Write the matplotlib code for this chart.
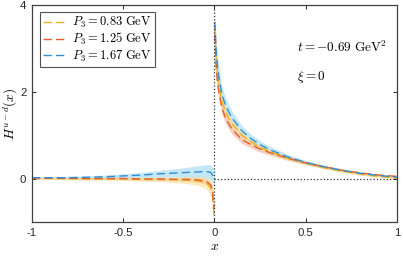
import matplotlib
matplotlib.use('Agg')
import matplotlib.pyplot as plt
import numpy as np

plt.rcParams['font.family'] = ['Liberation Sans', 'DejaVu Sans']
plt.rcParams['mathtext.fontset'] = 'cm'

# x grids
x_pos = [0.002, 0.01, 0.02, 0.04, 0.06, 0.08, 0.1, 0.15, 0.2, 0.25, 0.3, 0.4, 0.5, 0.6, 0.7, 0.8, 0.9, 1.0]
x_neg = [-1.0, -0.9, -0.8, -0.7, -0.6, -0.5, -0.4, -0.3, -0.2, -0.15, -0.1, -0.06, -0.04, -0.02, -0.01, -0.002]

# P3 = 0.83 GeV
y083_pos = [3.5, 2.7, 2.3, 1.8, 1.55, 1.38, 1.25, 1.0, 0.85, 0.72, 0.62, 0.47, 0.35, 0.25, 0.17, 0.1, 0.05, 0.01]
e083_pos = [0.3, 0.2, 0.15, 0.12, 0.1, 0.09, 0.08, 0.07, 0.06, 0.05, 0.05, 0.04, 0.03, 0.03, 0.03, 0.03, 0.03, 0.03]
y083_neg = [0.0, 0.0, -0.01, -0.01, -0.01, -0.01, -0.02, -0.02, -0.03, -0.04, -0.05, -0.08, -0.12, -0.22, -0.4, -0.9]
e083_neg = [0.02, 0.02, 0.02, 0.03, 0.03, 0.03, 0.04, 0.05, 0.07, 0.08, 0.1, 0.12, 0.14, 0.18, 0.22, 0.3]

# P3 = 1.25 GeV
y125_pos = [3.3, 2.5, 2.1, 1.65, 1.4, 1.25, 1.12, 0.9, 0.78, 0.68, 0.6, 0.47, 0.36, 0.27, 0.19, 0.13, 0.08, 0.05]
e125_pos = [0.3, 0.22, 0.18, 0.15, 0.13, 0.12, 0.11, 0.09, 0.08, 0.07, 0.06, 0.05, 0.04, 0.03, 0.03, 0.02, 0.02, 0.02]
y125_neg = [0.01, 0.01, 0.01, 0.0, 0.0, 0.0, -0.01, -0.01, -0.02, -0.02, -0.03, -0.05, -0.08, -0.15, -0.3, -0.7]
e125_neg = [0.02, 0.02, 0.02, 0.02, 0.03, 0.03, 0.03, 0.04, 0.04, 0.05, 0.05, 0.06, 0.07, 0.09, 0.12, 0.2]

# P3 = 1.67 GeV
y167_pos = [3.6, 2.9, 2.45, 1.95, 1.7, 1.52, 1.38, 1.1, 0.92, 0.78, 0.67, 0.5, 0.37, 0.27, 0.19, 0.12, 0.07, 0.03]
e167_pos = [0.35, 0.3, 0.25, 0.2, 0.18, 0.16, 0.15, 0.12, 0.1, 0.09, 0.08, 0.06, 0.05, 0.04, 0.03, 0.03, 0.02, 0.02]
y167_neg = [0.02, 0.02, 0.02, 0.03, 0.04, 0.06, 0.08, 0.11, 0.13, 0.14, 0.15, 0.16, 0.16, 0.14, 0.08, 0.0]
e167_neg = [0.02, 0.02, 0.03, 0.03, 0.04, 0.05, 0.06, 0.08, 0.1, 0.12, 0.14, 0.15, 0.16, 0.17, 0.18, 0.2]

labels = [r'$P_3 = 0.83\ \mathrm{GeV}$', r'$P_3 = 1.25\ \mathrm{GeV}$', r'$P_3 = 1.67\ \mathrm{GeV}$']
line_colors = ['#EDB120', '#E0602E', '#2F8FD2']
band_colors = ['#F9DC8C', '#F0A88C', '#94D5F3']

series = [
    (y083_pos, e083_pos, y083_neg, e083_neg),
    (y125_pos, e125_pos, y125_neg, e125_neg),
    (y167_pos, e167_pos, y167_neg, e167_neg),
]

fig = plt.figure(figsize=(4.03, 2.56), dpi=100)
ax = fig.add_axes([0.079, 0.133, 0.906, 0.848])

# bands first (blue at back)
for k in [2, 1, 0]:
    yp, ep, yn, en = [np.array(a) for a in series[k]]
    ax.fill_between(x_pos, yp - ep, yp + ep, color=band_colors[k], alpha=0.55, lw=0)
    ax.fill_between(x_neg, yn - en, yn + en, color=band_colors[k], alpha=0.55, lw=0)

dash = (0, (6, 3))
handles = []
for k in range(3):
    yp, ep, yn, en = series[k]
    h, = ax.plot(x_pos, yp, ls=dash, color=line_colors[k], lw=1.0, label=labels[k])
    ax.plot(x_neg, yn, ls=dash, color=line_colors[k], lw=1.0)
    handles.append(h)

ax.axvline(0, color='#333333', ls=':', lw=0.9)
ax.plot([0, 1], [0, 0], color='#333333', ls=':', lw=0.9)

ax.set_xlim(-1, 1)
ax.set_ylim(-1, 4)
ax.set_xticks([-1, -0.5, 0, 0.5, 1])
ax.set_xticklabels(['-1', '-0.5', '0', '0.5', '1'])
ax.set_yticks([0, 2, 4])
ax.tick_params(direction='in', length=3, width=0.7, labelsize=8.2, colors='#262626',
               top=True, right=True, pad=4)
for s in ax.spines.values():
    s.set_color('#404040')
    s.set_linewidth(0.9)

ax.set_xlabel(r'$x$', fontsize=10, labelpad=1)
ax.set_ylabel(r'$H^{u-d}(x)$', fontsize=9.5, labelpad=0)

ax.text(0.45, 3.02, r'$t = -0.69\ \mathrm{GeV}^2$', fontsize=9.5, va='center')
ax.text(0.45, 2.33, r'$\xi = 0$', fontsize=9.5, va='center')

leg = ax.legend(handles=handles, loc='upper left', fontsize=9, frameon=True,
                fancybox=False, edgecolor='#262626', handlelength=1.7,
                handletextpad=0.6, borderpad=0.25, labelspacing=0.1,
                borderaxespad=0, bbox_to_anchor=(0.022, 0.968))
leg.get_frame().set_linewidth(0.8)

fig.savefig('out.png', dpi=100)
